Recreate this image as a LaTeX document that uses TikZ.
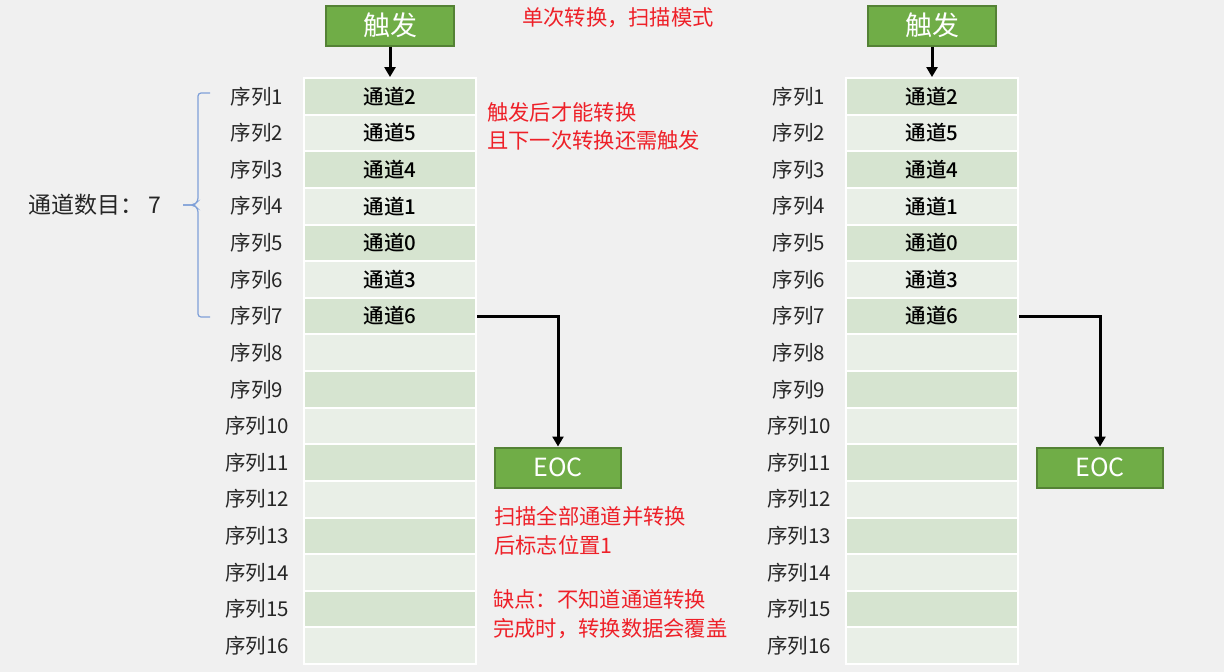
\documentclass[tikz,border=0pt]{standalone}
\usepackage{fontspec}
\setmainfont{Noto Sans CJK SC}[BoldFont={Noto Sans CJK SC Medium}]
\usetikzlibrary{positioning,arrows.meta}
\definecolor{bg}{HTML}{F0F0F0}
\definecolor{rowodd}{HTML}{D6E4D0}
\definecolor{roweven}{HTML}{E9EFE7}
\definecolor{gfill}{HTML}{70AD47}
\definecolor{gline}{HTML}{548235}
\definecolor{note}{HTML}{EE2028}
\definecolor{brace}{HTML}{7FA0D8}
\begin{document}
\begin{tikzpicture}[x=1pt, y=-1pt,
  cell/.style={draw=white, line width=2pt, minimum width=172pt, minimum height=36.6pt, inner sep=0pt},
  chan/.style={font=\fontsize{20.5}{24}\selectfont\bfseries},
  seq/.style={font=\fontsize{20.5}{24}\selectfont, text=black!85},
  greenbox/.style={draw=gline, line width=2pt, fill=gfill, text=white, inner sep=0pt},
  redtext/.style={text=note, align=left, inner sep=0pt, font=\fontsize{21.3}{28.5}\selectfont},
  link/.style={line width=3pt, -{Triangle[width=11pt,length=10pt]}}]
\fill[bg] (0,0) rectangle (1224,672);
\useasboundingbox (0,0) rectangle (1224,672);
\foreach \p/\ox in {a/0, b/542} {
  % table of 16 sequences
  \foreach \n in {1,...,16} {
    \ifodd\n \def\rc{rowodd}\else\def\rc{roweven}\fi
    \node[cell, fill=\rc] (cell\p\n) at (390+\ox, 78+36.625*\n-18.3) {};
    \node[seq] (seq\p\n) at (257+\ox, 78+36.625*\n-18.3) {序列\n};
  }
  \foreach \n/\c in {1/2, 2/5, 3/4, 4/1, 5/0, 6/3, 7/6}
    \node[chan] (chan\p\n) at (cell\p\n) {通道\c};
  \node[greenbox, minimum width=128pt, minimum height=40pt, font=\fontsize{27}{30}\selectfont]
    (trig\p) at (390+\ox, 25.5) {触发};
  \node[greenbox, minimum width=126pt, minimum height=40pt, font=\fontsize{25}{28}\selectfont]
    (eoc\p) at (558+\ox, 467.5) {EOC};
  \draw[link] (trig\p.south) -- (cell\p1.north);
  \draw[link] (cell\p7.east) -| (eoc\p.north);
}
\node[text=note, font=\fontsize{21.3}{24}\selectfont] (title) at (618, 18) {单次转换，扫描模式};
\node[redtext, anchor=west] (note1) at (487, 126.5) {触发后才能转换\\且下一次转换还需触发};
\node[redtext, anchor=west] (note2) at (494, 531) {扫描全部通道并转换\\后标志位置1};
\node[redtext, anchor=west] (note3) at (493, 614) {缺点：不知道通道转换\\完成时，转换数据会覆盖};
% channel count with brace
\node[font=\fontsize{23}{26}\selectfont, text=black!85, anchor=west, inner sep=0pt] (count) at (28, 205) {通道数目： 7};
\draw[brace, line width=1.2pt, rounded corners=3pt] (210,93) -- (198,93) -- (198,201) -- (194,205) -- (183,205);
\draw[brace, line width=1.2pt, rounded corners=3pt] (183,205) -- (194,205) -- (198,209) -- (198,317) -- (210,317);
\end{tikzpicture}
\end{document}
